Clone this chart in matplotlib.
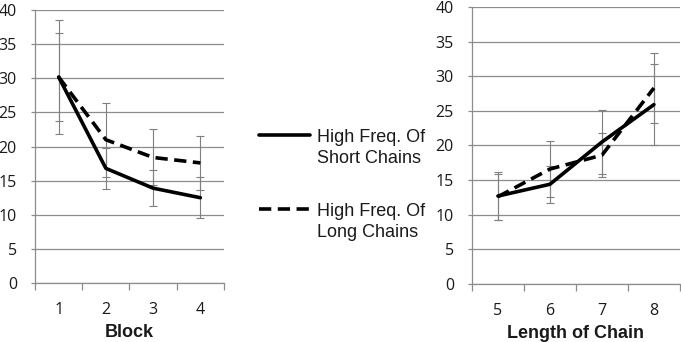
import numpy as np
import matplotlib
matplotlib.use("Agg")
import matplotlib.pyplot as plt

# left panel: block
blocks = ["1", "2", "3", "4"]
short_block = [30.2, 16.8, 13.9, 12.5]
short_block_err = [6.4, 3.0, 2.6, 3.0]
long_block = [30.2, 21.0, 18.4, 17.6]
long_block_err = [8.4, 5.4, 4.1, 4.0]

# right panel: length of chain
lengths = ["5", "6", "7", "8"]
short_len = [12.7, 14.4, 20.5, 25.9]
short_len_err = [3.5, 2.7, 4.6, 5.9]
long_len = [12.6, 16.6, 18.6, 28.3]
long_len_err = [3.3, 4.0, 3.2, 5.1]

labels = ["High Freq. Of\nShort Chains", "High Freq. Of\nLong Chains"]

GRID = "#8c8c8c"
TXT = "#1a1a1a"


def draw_panel(ax, cats, s, s_err, l, l_err, xlabel):
    x = np.arange(len(cats))
    ax.errorbar(x, s, yerr=s_err, fmt="none", ecolor="#7f7f7f", elinewidth=0.8,
                capsize=2.8, capthick=0.8, zorder=2)
    ax.errorbar(x, l, yerr=l_err, fmt="none", ecolor="#7f7f7f", elinewidth=0.8,
                capsize=2.8, capthick=0.8, zorder=2)
    h1, = ax.plot(x, s, color="black", lw=2.6, solid_capstyle="round", zorder=3)
    h2, = ax.plot(x, l, color="black", lw=2.6, dashes=(3.4, 1.8), zorder=3)
    ax.set_xlim(-0.5, len(cats) - 0.5)
    ax.set_ylim(0, 40)
    ax.set_yticks(range(0, 41, 5))
    ax.set_xticks(x)
    ax.set_xticklabels(cats)
    ax.set_xticks(np.arange(-0.5, len(cats)), minor=True)
    ax.tick_params(axis="x", which="major", length=0, pad=14, labelsize=11.5, labelcolor=TXT)
    ax.tick_params(axis="x", which="minor", length=5, color=GRID, width=0.9, direction="out")
    ax.tick_params(axis="y", length=3, color=GRID, width=0.9, pad=10, labelsize=11.5, labelcolor=TXT)
    ax.grid(axis="y", color=GRID, lw=0.9, zorder=0)
    ax.set_axisbelow(True)
    for side in ["top", "right"]:
        ax.spines[side].set_visible(False)
    for side in ["left", "bottom"]:
        ax.spines[side].set_color(GRID)
        ax.spines[side].set_linewidth(0.9)
    ax.set_xlabel(xlabel, fontsize=13, fontweight="bold", color=TXT, labelpad=4,
                  family="Liberation Sans")
    for t in ax.get_xticklabels() + ax.get_yticklabels():
        t.set_family("Open Sans")
    return h1, h2


fig = plt.figure(figsize=(6.81, 3.42), dpi=100)
ax1 = fig.add_axes([0.0514, 0.1725, 0.2775, 0.798])
ax2 = fig.add_axes([0.693, 0.1696, 0.3054, 0.81])

h1, h2 = draw_panel(ax1, blocks, short_block, short_block_err, long_block, long_block_err, "Block")
draw_panel(ax2, lengths, short_len, short_len_err, long_len, long_len_err, "Length of Chain")

leg = fig.legend([h1, h2], labels, loc="center left", bbox_to_anchor=(0.357, 0.46),
                 frameon=False, handlelength=2.8, handletextpad=0.4, labelspacing=2.0,
                 prop={"family": "Liberation Sans", "size": 13})
for t in leg.get_texts():
    t.set_linespacing(1.3)
    t.set_color(TXT)
# Excel puts the legend line next to the first text line
for col in leg._legend_handle_box.get_children():
    for row in col.get_children():
        row.align = "top"

fig.savefig("out.png", dpi=100)
